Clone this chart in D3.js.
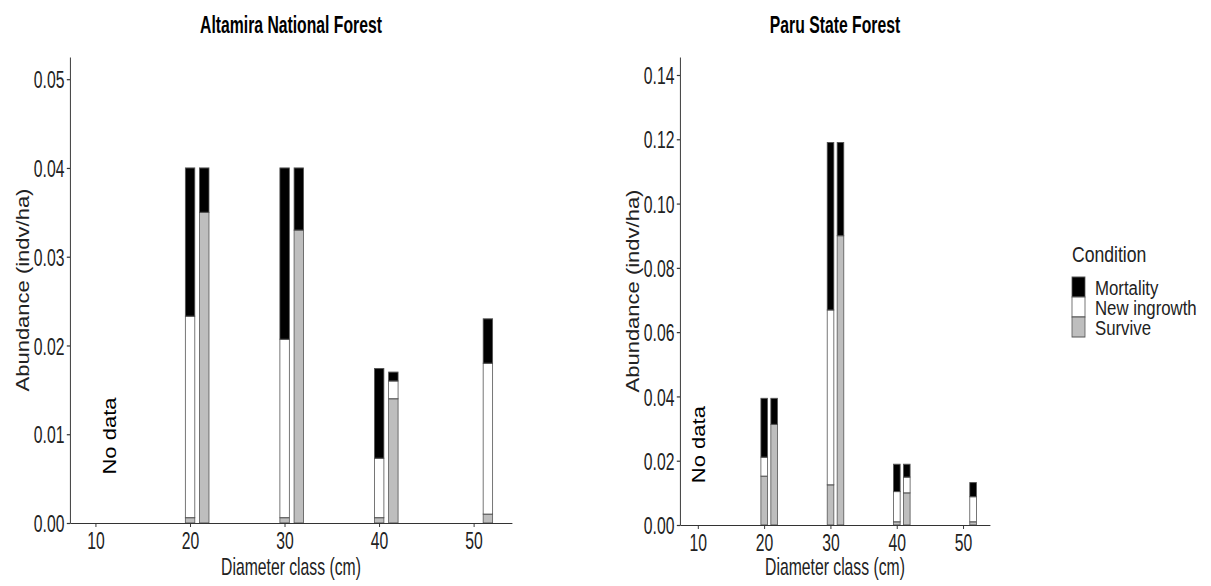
<!DOCTYPE html>
<html>
<head>
<meta charset="utf-8">
<script src="https://cdn.jsdelivr.net/npm/d3@7"></script>
<style>
  body { margin: 0; background: #fff; }
  svg { display: block; }
  text { font-family: 'Liberation Sans', Arial, sans-serif; }
</style>
</head>
<body>
<svg width="1211" height="586"></svg>
<script>
// bar positions (diameter class, two bars per class)
const barX = [20, 21.5, 30, 31.5, 40, 41.5, 51.5]
const xTicks = [10, 20, 30, 40, 50]
const conditions = ['Mortality', 'New ingrowth', 'Survive']

// Altamira National Forest
const altSurvive   = [0.0006, 0.035, 0.0006, 0.033, 0.0006, 0.014, 0.001]
const altIngrowth  = [0.0227, 0,     0.0201, 0,     0.0067, 0.002, 0.017]
const altMortality = [0.0167, 0.005, 0.0193, 0.007, 0.0101, 0.001, 0.005]
const altYTicks = [0, 0.01, 0.02, 0.03, 0.04, 0.05]

// Paru State Forest
const paruSurvive   = [0.0152, 0.0313, 0.0125, 0.09,  0.001,  0.01,   0.001]
const paruIngrowth  = [0.0059, 0,      0.0544, 0,     0.0094, 0.0049, 0.0078]
const paruMortality = [0.0183, 0.0081, 0.0521, 0.029, 0.0085, 0.004,  0.0044]
const paruYTicks = [0, 0.02, 0.04, 0.06, 0.08, 0.10, 0.12, 0.14]

const fill = { 'Mortality': '#000000', 'New ingrowth': '#ffffff', 'Survive': '#bebebe' }

// the original picture is squeezed horizontally, so draw wide and squeeze
const SX = 0.8
// horizontal labels use a narrow face in the original, fake it
const NX = 0.82
const svg = d3.select('svg')
const root = svg.append('g').attr('transform', `scale(${SX},1)`)

function squeeze(sel) {
    sel.each(function () {
        const t = d3.select(this)
        const x = +t.attr('x') || 0
        t.attr('x', x / NX).attr('transform', `scale(${NX},1)`)
    })
}

const panels = [
    { title: 'Altamira National Forest', survive: altSurvive, ingrowth: altIngrowth, mortality: altMortality,
      yMax: 0.0525, yTicks: altYTicks, left: 70, right: 512, top: 57, bottom: 523, noData: [11.5, 0.0098] },
    { title: 'Paru State Forest', survive: paruSurvive, ingrowth: paruIngrowth, mortality: paruMortality,
      yMax: 0.1456, yTicks: paruYTicks, left: 680, right: 990, top: 57, bottom: 525, noData: [10.2, 0.025] }
]

const f = d3.format('.2f')

panels.forEach(function (p) {
    const g = root.append('g')
    const x = d3.scaleLinear().domain([7.3, 54.05]).range([p.left / SX, p.right / SX])
    const y = d3.scaleLinear().domain([0, p.yMax]).range([p.bottom, p.top])

    const rows = barX.map((v, i) => ({
        x: v, 'Survive': p.survive[i], 'New ingrowth': p.ingrowth[i], 'Mortality': p.mortality[i]
    }))
    const series = d3.stack().keys(['Survive', 'New ingrowth', 'Mortality'])(rows)

    g.selectAll('g.layer')
        .data(series)
        .enter().append('g')
        .attr('class', 'layer')
        .style('fill', d => fill[d.key])
        .selectAll('rect')
        .data(d => d.filter(s => s[1] - s[0] > 0))
        .enter().append('rect')
        .attr('x', d => x(d.data.x - 0.5))
        .attr('width', d => x(d.data.x + 0.5) - x(d.data.x - 0.5))
        .attr('y', d => y(d[1]))
        .attr('height', d => y(d[0]) - y(d[1]))
        .style('stroke', '#555')
        .style('stroke-width', 1)

    // axes
    const yAxis = d3.axisLeft(y).tickValues(p.yTicks).tickFormat(f).tickSize(4).tickSizeOuter(0).tickPadding(3)
    const xAxis = d3.axisBottom(x).tickValues(xTicks).tickSize(4).tickSizeOuter(0).tickPadding(4)

    const ya = g.append('g').attr('transform', `translate(${p.left / SX},0)`).call(yAxis)
    const xa = g.append('g').attr('transform', `translate(0,${p.bottom})`).call(xAxis)
    ;[ya, xa].forEach(function (a) {
        a.attr('font-family', null).attr('font-size', null)
        a.selectAll('path, line').style('stroke', '#333').style('stroke-width', 1.2)
        a.selectAll('text').style('font-size', '24px').style('fill', '#222')
    })
    ya.selectAll('text').attr('dy', '0.36em').call(squeeze)
    xa.selectAll('text').attr('dy', '0.74em').call(squeeze)

    // title
    g.append('text')
        .attr('x', (p.left + p.right) / 2 / SX)
        .attr('y', 33)
        .attr('text-anchor', 'middle')
        .style('font-size', '24px')
        .style('font-weight', 'bold')
        .text(p.title)
        .call(squeeze)

    // axis titles
    g.append('text')
        .attr('x', (p.left + p.right) / 2 / SX)
        .attr('y', 575)
        .attr('text-anchor', 'middle')
        .style('font-size', '24px')
        .style('fill', '#222')
        .text('Diameter class (cm)')
        .call(squeeze)

    g.append('text')
        .attr('transform', `translate(${(p.left - 41) / SX},${(p.top + p.bottom) / 2}) rotate(-90)`)
        .attr('text-anchor', 'middle')
        .style('font-size', '22px')
        .style('fill', '#222')
        .text('Abundance (indv/ha)')

    // no data note
    g.append('text')
        .attr('transform', `translate(${x(p.noData[0])},${y(p.noData[1])}) rotate(-90)`)
        .attr('text-anchor', 'middle')
        .attr('dy', '0.35em')
        .style('font-size', '22px')
        .text('No data')
})

// legend
const lg = root.append('g')
lg.append('text')
    .attr('x', 1072 / SX)
    .attr('y', 262)
    .style('font-size', '22px')
    .style('fill', '#222')
    .text('Condition')

const item = lg.selectAll('g.item')
    .data(conditions)
    .enter().append('g')
    .attr('class', 'item')
    .attr('transform', (d, i) => `translate(${1072 / SX},${277 + i * 20})`)

item.append('rect')
    .attr('width', 13 / SX)
    .attr('height', 20)
    .style('fill', d => fill[d])
    .style('stroke', '#555')
    .style('stroke-width', 1)

item.append('text')
    .attr('x', 23 / SX)
    .attr('y', 18)
    .style('font-size', '21px')
    .style('fill', '#222')
    .text(d => d)
</script>
</body>
</html>
